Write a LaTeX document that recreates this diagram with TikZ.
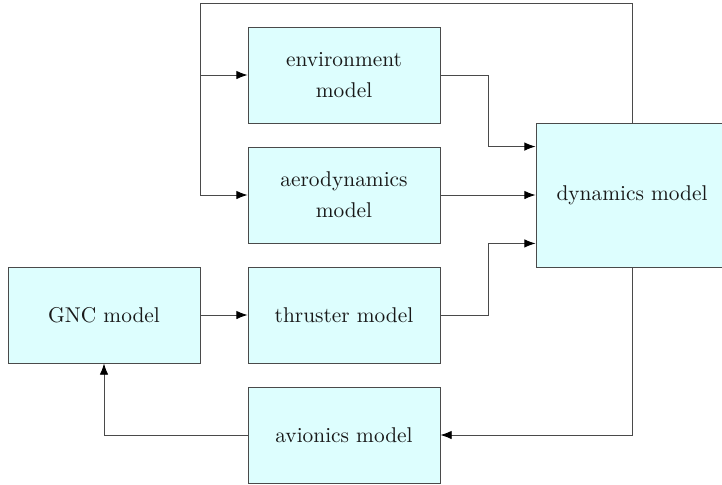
\documentclass[tikz,border=0pt]{standalone}
\usetikzlibrary{arrows.meta,calc}
\definecolor{boxfill}{HTML}{DDFEFE}
\definecolor{linegray}{HTML}{4A4A4A}
\begin{document}
\begin{tikzpicture}[x=0.015625cm,y=-0.015625cm,
  blk/.style={draw=linegray,fill=boxfill,line width=0.4pt,minimum width=3cm,minimum height=1.5cm,inner sep=0pt,align=center,
    font=\fontsize{9.5}{13.8}\selectfont,text=black!90},
  arr/.style={draw=linegray,line width=0.4pt,-{Latex[length=5pt,width=3.8pt,fill=black,color=black]}}]
\useasboundingbox (0,0) rectangle (722,485);
\node[blk] (env) at (344,75) {environment\\model};
\node[blk] (aero) at (344,195) {aerodynamics\\model};
\node[blk] (thr) at (344,315) {thruster model};
\node[blk] (avi) at (344,435) {avionics model};
\node[blk] (gnc) at (104,315) {GNC model};
\node[blk,minimum height=2.25cm] (dyn) at (632,195) {dynamics model};
\coordinate (top) at (200,3);
\coordinate (d1) at ($(dyn.north west)+(0,24)$);
\coordinate (d3) at ($(dyn.south west)+(0,-24)$);
\draw[arr] (env.east) -- ++(48,0) |- (d1);
\draw[arr] (aero.east) -- (dyn.west);
\draw[arr] (thr.east) -- ++(48,0) |- (d3);
\draw[arr] (dyn.north) |- (top) |- (aero.west);
\draw[arr] (top |- env.west) -- (env.west);
\draw[arr] (dyn.south) |- (avi.east);
\draw[arr] (avi.west) -| (gnc.south);
\draw[arr] (gnc.east) -- (thr.west);
\end{tikzpicture}
\end{document}
